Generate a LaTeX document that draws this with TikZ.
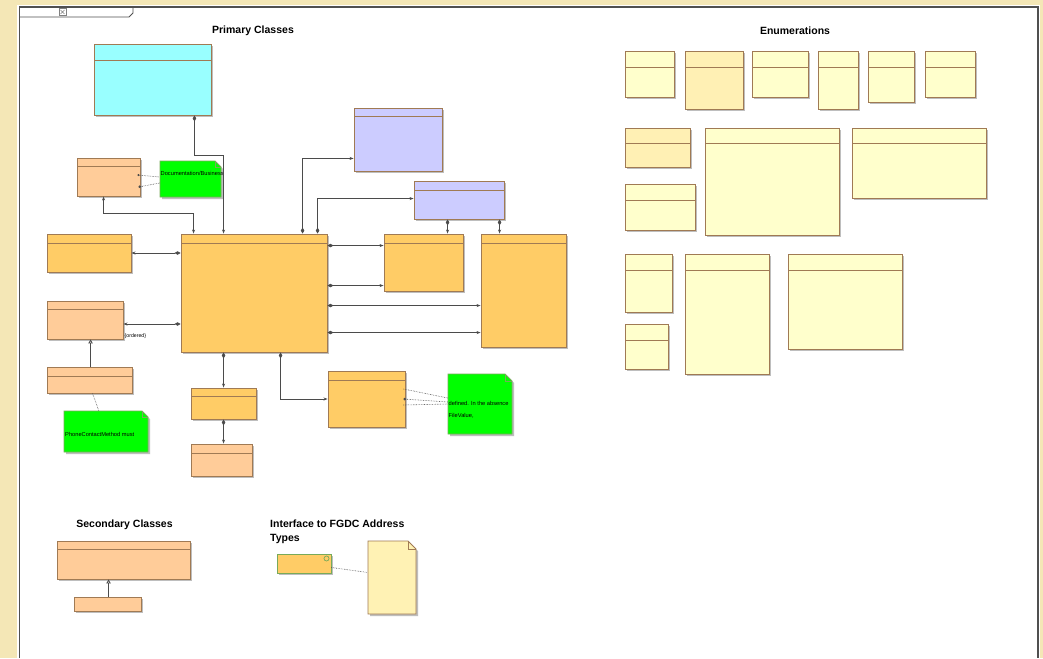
\documentclass[tikz,border=0pt]{standalone}
\usepackage{fontspec}
\setmainfont{Liberation Sans}
\usetikzlibrary{arrows.meta,fit}

\definecolor{bgbeige}{RGB}{244,231,182}
\definecolor{framegray}{RGB}{80,80,80}
\definecolor{umlborder}{RGB}{160,122,84}
\definecolor{classorange}{RGB}{255,204,102}
\definecolor{classpeach}{RGB}{255,204,153}
\definecolor{classcyan}{RGB}{153,255,255}
\definecolor{classlav}{RGB}{204,204,255}
\definecolor{enumyellow}{RGB}{255,255,204}
\definecolor{enumdark}{RGB}{255,240,180}
\definecolor{notegreen}{RGB}{0,255,0}
\definecolor{notegreenline}{RGB}{120,170,90}
\definecolor{noteyellow}{RGB}{255,242,180}
\definecolor{linkgray}{RGB}{75,75,75}
\definecolor{shadowgray}{RGB}{190,190,190}

\tikzset{
  classbox/.style={draw=umlborder, line width=0.9pt, inner sep=0pt},
  hdrline/.style={draw=umlborder, line width=0.9pt},
  assoc/.style={draw=linkgray, line width=0.8pt},
  comp/.style={assoc, {Diamond[length=6pt,width=3.5pt]}-{Stealth[length=4pt,width=3pt]}},
  navboth/.style={assoc, {Stealth[length=4pt,width=3pt]}-{Stealth[length=4pt,width=3pt]}},
  gen/.style={assoc, -{Triangle[open,length=4pt,width=4.5pt]}},
  notelink/.style={draw=linkgray, line width=0.6pt, densely dotted},
  grouptitle/.style={font=\fontsize{10.5}{13.7}\selectfont\bfseries, inner sep=0pt},
  notetext/.style={font=\fontsize{5.7}{7}\selectfont, inner sep=0pt, anchor=west},
}

% name, left, top, right, bottom, header, fill
\newcommand{\umlclass}[7]{
  \fill[shadowgray] (#2+2,#3+2) rectangle (#4+2,#5+2);
  \node[classbox, fill=#7, fit={(#2,#3) (#4,#5)}] (#1) {};
  \draw[hdrline] (#2,#6) -- (#4,#6);
}
% name, left, top, right, bottom, fold, fill, border
\newcommand{\umlnote}[8]{
  \fill[shadowgray] (#2+2,#3+2) -- (#4+2-#6,#3+2) -- (#4+2,#3+2+#6) -- (#4+2,#5+2) -- (#2+2,#5+2) -- cycle;
  \filldraw[fill=#7, draw=#8, line width=0.9pt] (#2,#3) -- (#4-#6,#3) -- (#4,#3+#6) -- (#4,#5) -- (#2,#5) -- cycle;
  \draw[draw=#8, line width=0.7pt] (#4-#6,#3) -- (#4-#6,#3+#6) -- (#4,#3+#6);
  \node[inner sep=0pt, fit={(#2,#3) (#4,#5)}] (#1) {};
}

\begin{document}
\begin{tikzpicture}[x=1pt, y=-1pt]
  \useasboundingbox (0,0) rectangle (1043,658);
  % frame
  \fill[bgbeige] (0,0) rectangle (1043,658);
  \fill[white] (17,5) rectangle (1040,658);
  \draw[framegray, line width=1.2pt] (19.5,658) -- (19.5,7) -- (1038,7) -- (1038,658);
  \draw[framegray, line width=0.8pt] (19.5,17) -- (129,17) -- (133,13) -- (133,7);
  \filldraw[fill=white, draw=gray, line width=0.4pt] (59,8.5) rectangle (66,15.5);
  \draw[gray, line width=0.5pt] (60.5,10) -- (64.5,14) (60.5,14) -- (64.5,10);

  % titles
  \node[grouptitle] (primtitle) at (253,31) {Primary Classes};
  \node[grouptitle] (enumtitle) at (795,31) {Enumerations};
  \node[grouptitle] (sectitle) at (124.5,525) {Secondary Classes};
  \node[grouptitle, anchor=north west, align=left] (ifacetitle) at (270,520) {Interface to FGDC Address\\Types};

  % primary classes
  \umlclass{cyan}{94}{44}{211}{115}{60}{classcyan}
  \umlclass{doc}{77}{158}{140}{196}{166}{classpeach}
  \umlclass{orgL}{47}{234}{131}{272}{243}{classorange}
  \umlclass{peachL}{47}{301}{123}{339}{309}{classpeach}
  \umlclass{peachLL}{47}{367}{132}{393}{376}{classpeach}
  \umlclass{main}{181}{234}{327}{352}{243}{classorange}
  \umlclass{orgB}{191}{388}{256}{419}{396}{classorange}
  \umlclass{peachB}{191}{444}{252}{476}{453}{classpeach}
  \umlclass{orgBR}{328}{371}{405}{427}{380}{classorange}
  \umlclass{lavA}{354}{108}{442}{171}{116}{classlav}
  \umlclass{lavB}{414}{181}{504}{219}{190}{classlav}
  \umlclass{orgRA}{384}{234}{463}{291}{243}{classorange}
  \umlclass{orgRB}{481}{234}{566}{347}{243}{classorange}

  % notes
  \umlnote{notedoc}{160}{161}{221}{197}{6}{notegreen}{notegreenline}
  \umlnote{notephone}{64}{411}{148}{452}{6}{notegreen}{notegreenline}
  \umlnote{notefile}{448}{374}{512}{434}{7}{notegreen}{notegreenline}
  \node[notetext] (doctxt) at (160.5,173) {Documentation/Business};
  \node[notetext] (phonetxt) at (65,434) {PhoneContactMethod must};
  \node[notetext] (filetxtA) at (448.5,403) {defined. In the absence};
  \node[notetext] (filetxtB) at (448.5,416) {FileValue,};
  \node[notetext, font=\fontsize{5.2}{6}\selectfont] (ordtxt) at (124.5,336) {\{ordered\}};

  % associations
  \draw[comp] ([xshift=-17pt]cyan.south east) -- ++(0,40) -| ([xshift=43pt]main.north west);
  \draw[navboth] ([xshift=27pt]doc.south west) -- ++(0,17) -| ([xshift=13pt]main.north west);
  \draw[comp] ([xshift=122pt]main.north west) |- ([yshift=13pt]lavA.south west);
  \draw[comp] ([xshift=137pt]main.north west) |- ([yshift=-18pt]lavB.north west);
  \draw[comp] (main.west |- orgL.east) -- (orgL.east);
  \draw[comp] ([yshift=-31pt]main.west) -- ([yshift=-4pt]peachL.east);
  \draw[comp] ([yshift=-12pt]main.north east) -- ([yshift=-12pt]orgRA.north west);
  \draw[comp] ([yshift=-52pt]main.north east) -- ([yshift=-52pt]orgRA.north west);
  \draw[comp] ([yshift=-72pt]main.north east) -- ([yshift=-72pt]orgRB.north west);
  \draw[comp] ([yshift=-99pt]main.north east) -- ([yshift=-99pt]orgRB.north west);
  \draw[comp] ([xshift=34pt]lavB.south west) -- ([xshift=64pt]orgRA.north west);
  \draw[comp] ([xshift=86pt]lavB.south west) -- ([xshift=19pt]orgRB.north west);
  \draw[comp] ([xshift=43pt]main.south west) -- ([xshift=33pt]orgB.north west);
  \draw[comp] ([xshift=33pt]orgB.south west) -- ([xshift=33pt]peachB.north west);
  \draw[comp] ([xshift=100pt]main.south west) |- (orgBR.west);
  \draw[gen] ([xshift=44pt]peachLL.north west) -- ([xshift=44pt]peachL.south west);

  % note links
  \draw[notelink, {Circle[length=2pt]}-] ([xshift=-3pt,yshift=2pt]doc.east) -- ([yshift=2pt]notedoc.west);
  \draw[notelink, {Circle[length=2.5pt]}-] ([xshift=-2pt,yshift=-10pt]doc.east) -- ([yshift=-4pt]notedoc.west);
  \draw[notelink] ([xshift=46pt]peachLL.south west) -- ([xshift=35pt]notephone.north west);
  \draw[notelink] ([xshift=-2pt,yshift=10pt]orgBR.east) -- ([yshift=6pt]notefile.west);
  \draw[notelink, {Circle[length=2.5pt]}-] ([xshift=-2pt]orgBR.east) -- ([yshift=2pt]notefile.west);
  \draw[notelink] ([xshift=-2pt,yshift=-6pt]orgBR.east) -- (notefile.west);

  % enumerations, row 1
  \umlclass{enumA}{625}{51}{674}{97}{67}{enumyellow}
  \umlclass{enumB}{685}{51}{743}{109}{67}{enumdark}
  \umlclass{enumC}{752}{51}{808}{97}{67}{enumyellow}
  \umlclass{enumD}{818}{51}{858}{109}{67}{enumyellow}
  \umlclass{enumE}{868}{51}{914}{102}{67}{enumyellow}
  \umlclass{enumF}{925}{51}{975}{97}{67}{enumyellow}
  % row 2
  \umlclass{enumG}{625}{128}{690}{167}{143}{enumdark}
  \umlclass{enumH}{705}{128}{839}{235}{143}{enumyellow}
  \umlclass{enumI}{852}{128}{986}{198}{143}{enumyellow}
  \umlclass{enumJ}{625}{184}{695}{230}{200}{enumyellow}
  % row 3
  \umlclass{enumK}{625}{254}{672}{312}{270}{enumyellow}
  \umlclass{enumL}{625}{324}{668}{369}{340}{enumyellow}
  \umlclass{enumM}{685}{254}{769}{374}{270}{enumyellow}
  \umlclass{enumN}{788}{254}{902}{349}{270}{enumyellow}

  % secondary classes
  \umlclass{secA}{57}{541}{190}{579}{549}{classpeach}
  \fill[shadowgray] (76,599) rectangle (143,613);
  \node[classbox, fill=classpeach, fit={(74,597) (141,611)}] (secB) {};
  \draw[gen] ([xshift=35pt]secB.north west) -- ([xshift=52pt]secA.south west);

  % interface to FGDC
  \fill[shadowgray] (279,556) rectangle (333,575);
  \node[draw=notegreenline, line width=0.9pt, fill=classorange, inner sep=0pt, fit={(277,554) (331,573)}] (iface) {};
  \draw[notegreenline, line width=0.7pt] (326.5,558.5) circle (2.5);
  \umlnote{fgdc}{368}{541}{416}{614}{8}{noteyellow}{umlborder}
  \draw[notelink] ([yshift=-4pt]iface.east) -- ([yshift=5pt]fgdc.west);
\end{tikzpicture}
\end{document}
